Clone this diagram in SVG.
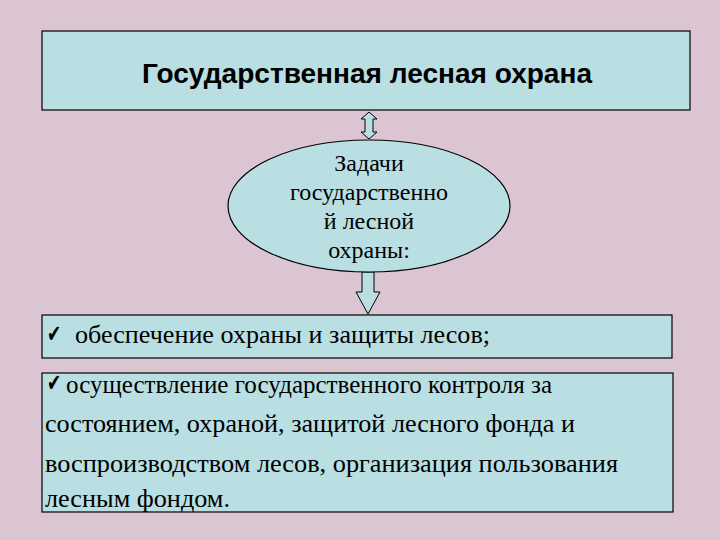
<svg xmlns="http://www.w3.org/2000/svg" width="720" height="540" viewBox="0 0 720 540">
<style>
.box{fill:#b9dfe3;stroke:#000;stroke-width:1.2}
.arr{fill:#b9dfe3;stroke:#000;stroke-width:1}
.t{font-family:"Liberation Serif","Times New Roman",serif;font-size:26px;fill:#000}
.c{font-family:"DejaVu Sans",sans-serif;font-size:24px;fill:#000}
.e{font-family:"Liberation Serif","Times New Roman",serif;font-size:24px;fill:#000}
.h{font-family:"Liberation Sans",Arial,sans-serif;font-size:27px;font-weight:bold;fill:#000}
</style>
<rect width="720" height="540" fill="#dcc5d3"/>
<g id="connectors">
<path class="arr" d="M369,112 L377,119 L373,119 L373,132 L377,132 L369,139 L361,132 L365,132 L365,119 L361,119 Z"/>
<path class="arr" d="M362,272 L374,272 L374,292 L380,292 L368,314 L356,292 L362,292 Z"/>
</g>
<g id="title">
<rect class="box" x="42" y="31" width="648" height="79"/>
<text class="h" x="142" y="83" textLength="450" lengthAdjust="spacingAndGlyphs">Государственная лесная охрана</text>
</g>
<g id="tasks">
<ellipse class="box" cx="369" cy="206" rx="141" ry="66"/>
<text class="e" text-anchor="middle"><tspan x="369" y="171">Задачи</tspan><tspan x="369" y="200">государственно</tspan><tspan x="369" y="229">й лесной</tspan><tspan x="369" y="258">охраны:</tspan></text>
</g>
<g id="item1">
<rect class="box" x="42" y="315" width="630" height="43"/>
<text class="c" x="47" y="342" textLength="14" lengthAdjust="spacingAndGlyphs">✔</text>
<text class="t" x="75" y="343" textLength="415" lengthAdjust="spacingAndGlyphs">обеспечение охраны и защиты лесов;</text>
</g>
<g id="item2">
<rect class="box" x="42" y="373" width="631" height="139"/>
<text class="c" x="47" y="391" textLength="14" lengthAdjust="spacingAndGlyphs">✔</text>
<text class="t" x="66" y="393" textLength="486" lengthAdjust="spacingAndGlyphs">осуществление государственного контроля за</text>
<text class="t" x="45" y="432" textLength="530" lengthAdjust="spacingAndGlyphs">состоянием, охраной, защитой лесного фонда и</text>
<text class="t" x="45" y="472" textLength="573" lengthAdjust="spacingAndGlyphs">воспроизводством лесов, организация пользования</text>
<text class="t" x="45" y="507" textLength="185" lengthAdjust="spacingAndGlyphs">лесным фондом.</text>
</g>
</svg>
